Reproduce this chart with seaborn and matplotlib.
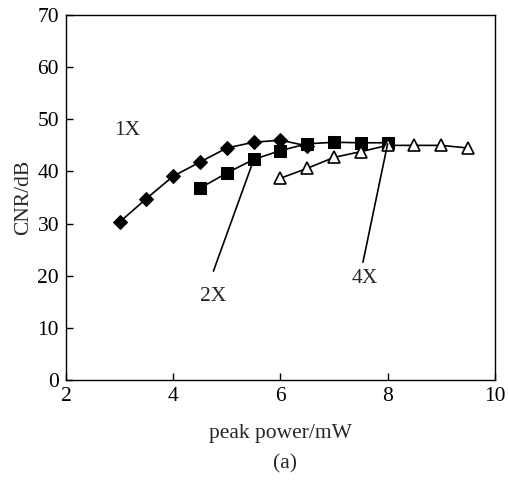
import matplotlib
matplotlib.use("Agg")
import matplotlib.pyplot as plt
import seaborn as sns
import pandas as pd

x_1x = [3.0, 3.5, 4.0, 4.5, 5.0, 5.5, 6.0, 6.5]
y_1x = [30.3, 34.8, 39.1, 41.8, 44.5, 45.6, 46.0, 44.9]
x_2x = [4.5, 5.0, 5.5, 6.0, 6.5, 7.0, 7.5, 8.0]
y_2x = [36.8, 39.7, 42.3, 44.0, 45.3, 45.6, 45.5, 45.5]
x_4x = [6.0, 6.5, 7.0, 7.5, 8.0, 8.5, 9.0, 9.5]
y_4x = [38.7, 40.6, 42.7, 43.8, 45.0, 45.0, 45.0, 44.5]

sns.set_theme(style="ticks")
plt.rcParams['font.family'] = ['Liberation Serif', 'DejaVu Serif']

FS = 15.5
fig = plt.figure(figsize=(5.08, 4.83), dpi=100)
ax = fig.add_axes([0.130, 0.213, 0.844, 0.756])

d1 = pd.DataFrame({"x": x_1x, "y": y_1x})
d2 = pd.DataFrame({"x": x_2x, "y": y_2x})
d4 = pd.DataFrame({"x": x_4x, "y": y_4x})

sns.lineplot(data=d1, x="x", y="y", ax=ax, color="black", lw=1.2, marker="D",
             markersize=7, markerfacecolor="black", markeredgecolor="black")
sns.lineplot(data=d2, x="x", y="y", ax=ax, color="black", lw=1.2, marker="s",
             markersize=8.5, markerfacecolor="black", markeredgecolor="black")
sns.lineplot(data=d4, x="x", y="y", ax=ax, color="black", lw=1.2, marker="^",
             markersize=9, markerfacecolor="white", markeredgecolor="black",
             markeredgewidth=1.2)

ax.set_xlim(2, 10)
ax.set_ylim(0, 70)
ax.set_xticks([2, 4, 6, 8, 10])
ax.set_yticks(range(0, 71, 10))
ax.tick_params(direction="in", length=5, width=1, labelsize=FS, colors="black", pad=5)
for s in ax.spines.values():
    s.set_linewidth(1)
    s.set_color("black")
ax.set_xlabel("peak power/mW", fontsize=FS, labelpad=13)
ax.set_ylabel("CNR/dB", fontsize=FS, labelpad=3)

ax.text(3.14, 47.8, "1X", fontsize=FS, ha="center", va="center")
ax.text(4.74, 16.0, "2X", fontsize=FS, ha="center", va="center")
ax.text(7.57, 19.4, "4X", fontsize=FS, ha="center", va="center")
ax.plot([4.75, 5.5], [20.9, 42.2], color="black", lw=1.2)
ax.plot([7.54, 8.0], [22.6, 45.3], color="black", lw=1.2)

fig.text(0.561, 1 - 464 / 483, "(a)", fontsize=FS, ha="center", va="center")

fig.savefig("out.png", dpi=100)
